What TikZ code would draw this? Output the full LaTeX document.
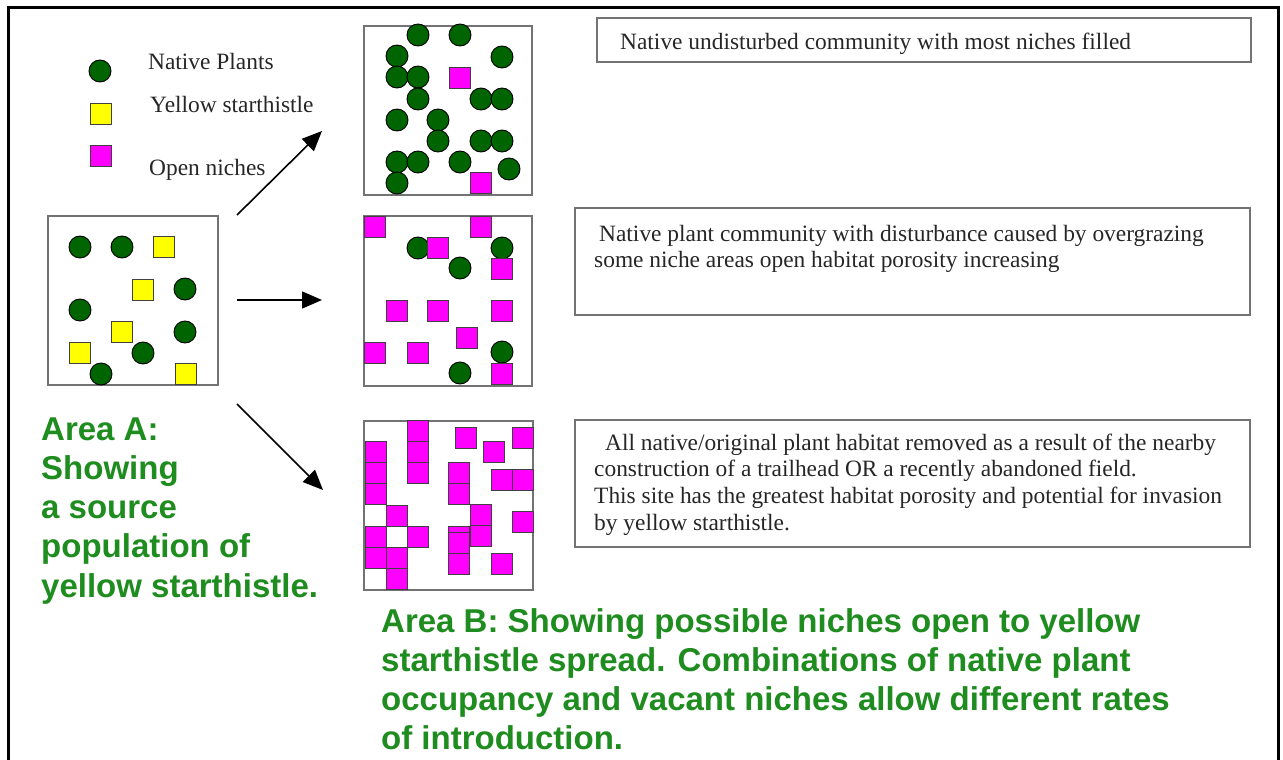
\documentclass[tikz,border=0pt]{standalone}
\usepackage{fontspec}
\setmainfont{Liberation Serif}
\newfontfamily\headfont{Liberation Sans}
\usetikzlibrary{arrows.meta}

\definecolor{plantGreen}{RGB}{0,100,0}
\definecolor{ystYellow}{RGB}{255,255,0}
\definecolor{nicheMagenta}{RGB}{255,0,255}
\definecolor{captionGreen}{RGB}{30,140,30}
\definecolor{plotGray}{RGB}{115,115,115}

\begin{document}
\begin{tikzpicture}[x=1pt,y=-1pt,
  plant/.style={circle,draw=black,line width=0.9pt,fill=plantGreen,minimum size=22pt,inner sep=0pt},
  ystsq/.style={rectangle,draw=black!75,line width=0.9pt,fill=ystYellow,minimum size=21pt,inner sep=0pt},
  nichesq/.style={rectangle,draw=black!75,line width=0.9pt,fill=nicheMagenta,minimum size=21pt,inner sep=0pt},
  plotbox/.style={rectangle,draw=plotGray,line width=1.8pt,fill=white,inner sep=0pt},
  notebox/.style={rectangle,draw=plotGray,line width=1.6pt,inner sep=0pt},
  serif/.style={inner sep=0pt,anchor=base west,font=\fontsize{23.4}{26.7}\selectfont,text=black!85},
  caption/.style={inner sep=0pt,anchor=base west,font=\headfont\bfseries\fontsize{33}{39.3}\selectfont,text=captionGreen},
  flow/.style={line width=1.6pt,-{Triangle[length=20pt,width=17pt]}}
]
\useasboundingbox (0,0) rectangle (1283,760);

% outer frame, open at the bottom edge of the page
\draw[line width=3pt] (8,790) -- (8,8) -- (1278,8) -- (1278,790);

% legend
\node[plant] (legPlant) at (100,71) {};
\node[ystsq] (legYst) at (101,114) {};
\node[nichesq] (legNiche) at (101,156) {};
\node[serif] (legPlantTxt) at (148,70) {Native Plants};
\node[serif] (legYstTxt) at (150,112) {Yellow starthistle};
\node[serif] (legNicheTxt) at (149,175) {Open niches};

% source plot (Area A)
\node[plotbox,minimum width=170pt,minimum height=169pt] (srcPlot) at (133,300.5) {};
\foreach \px/\py [count=\i] in {80/247,122/247,185/289,80/310,185/332,143/353,101/374}
  \node[plant] (srcP\i) at (\px,\py) {};
\foreach \px/\py [count=\i] in {164/247,143/290,122/332,80/353,186/374}
  \node[ystsq] (srcY\i) at (\px,\py) {};

% plot 1: undisturbed community
\node[plotbox,minimum width=168pt,minimum height=169pt] (plotOne) at (448,110.5) {};
\foreach \px/\py [count=\i] in {418/35,460/35,397/56,502/57,397/77,418/77,418/99,481/99,502/99,397/120,438/120,438/141,481/141,502/141,397/162,418/162,460/162,509/169,397/183}
  \node[plant] (oneP\i) at (\px,\py) {};
\foreach \px/\py [count=\i] in {460/78,481/183}
  \node[nichesq] (oneN\i) at (\px,\py) {};

% plot 2: overgrazed community
\node[plotbox,minimum width=168pt,minimum height=170pt] (plotTwo) at (448,301) {};
\foreach \px/\py [count=\i] in {418/248,502/248,460/268,502/352,460/373}
  \node[plant] (twoP\i) at (\px,\py) {};
\foreach \px/\py [count=\i] in {375/227,481/227,438/248,502/269,397/311,438/311,502/311,467/338,375/353,418/353,502/374}
  \node[nichesq] (twoN\i) at (\px,\py) {};

% plot 3: cleared habitat
\node[plotbox,minimum width=169pt,minimum height=169pt] (plotThree) at (448.5,505.5) {};
\foreach \px/\py [count=\i] in {376/452,376/473,376/494,376/537,376/558,397/516,397/558,397/579,418/431,418/452,418/473,418/537,459/473,459/494,459/537,459/543,459/564,481/515,481/536,466/438,494/452,502/480,502/564,523/438,523/480,523/522}
  \node[nichesq] (threeN\i) at (\px,\py) {};

% arrows from the source plot
\coordinate (upTail) at (237,215);
\coordinate (upHead) at (322,131);
\coordinate (midTail) at (237,300);
\coordinate (midHead) at (322,300);
\coordinate (downTail) at (237,404);
\coordinate (downHead) at (323,490);
\draw[flow] (upTail) -- (upHead);
\draw[flow] (midTail) -- (midHead);
\draw[flow] (downTail) -- (downHead);

% description boxes
\node[notebox,minimum width=654pt,minimum height=44pt] (noteOne) at (924,40) {};
\node[serif] (noteOneTxt) at (620,50) {Native undisturbed community with most niches filled};

\node[notebox,minimum width=675pt,minimum height=107pt] (noteTwo) at (912.5,261.5) {};
\node[serif] (noteTwoTxt) at (594,241) {\begin{tabular}[t]{@{}l@{}}\hspace{5pt}Native plant community with disturbance caused by overgrazing\\some niche areas open habitat porosity increasing\end{tabular}};

\node[notebox,minimum width=675pt,minimum height=127pt] (noteThree) at (912.5,483.5) {};
\node[serif] (noteThreeTxt) at (594,450) {\begin{tabular}[t]{@{}l@{}}\hspace{11pt}All native/original plant habitat removed as a result of the nearby\\construction of a trailhead OR a recently abandoned field.\\This site has the greatest habitat porosity and potential for invasion\\by yellow starthistle.\end{tabular}};

% captions
\node[caption] (capA) at (41,440) {\begin{tabular}[t]{@{}l@{}}Area A:\\Showing\\a source\\population of\\yellow starthistle.\end{tabular}};
\node[caption] (capB) at (381,632) {\begin{tabular}[t]{@{}l@{}}Area B: Showing possible niches open to yellow\\starthistle spread. Combinations of native plant\\occupancy and vacant niches allow different rates\\of introduction.\end{tabular}};
\end{tikzpicture}
\end{document}
